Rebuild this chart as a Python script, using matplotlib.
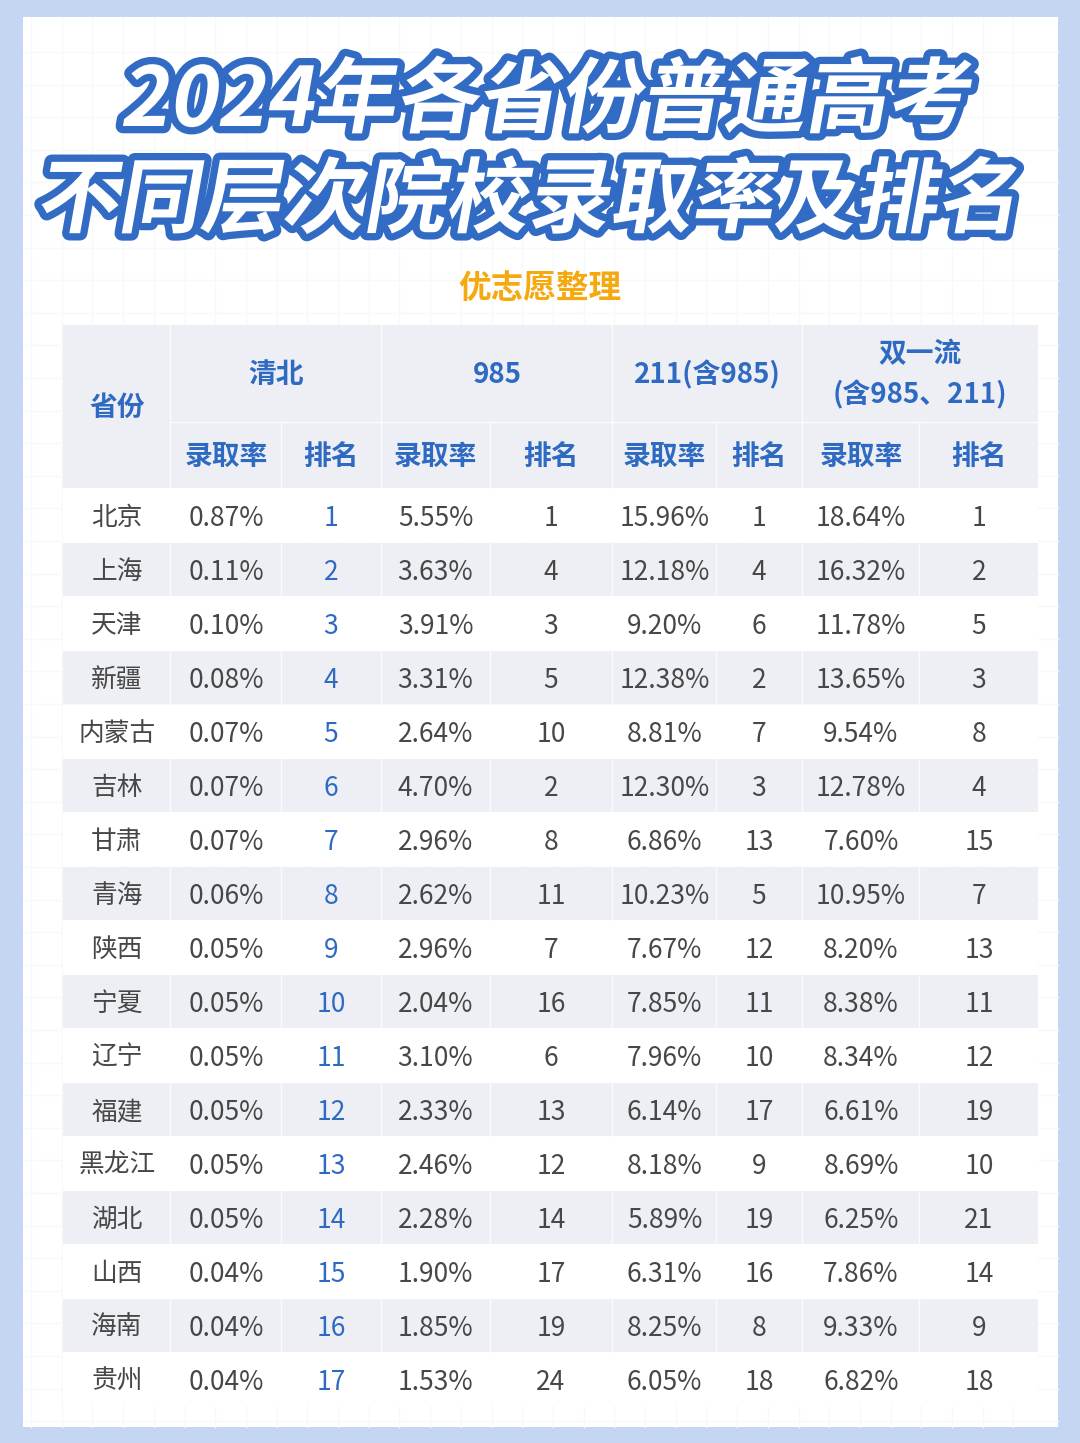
import matplotlib
matplotlib.use('Agg')
import matplotlib.pyplot as plt
import matplotlib.patheffects as pe
from matplotlib.colors import to_rgb
from matplotlib.patches import Rectangle
from matplotlib.transforms import Affine2D

plt.rcParams['font.family'] = ['Noto Sans CJK SC', 'DejaVu Sans']

provinces = ['北京', '上海', '天津', '新疆', '内蒙古', '吉林', '甘肃', '青海', '陕西', '宁夏',
             '辽宁', '福建', '黑龙江', '湖北', '山西', '海南', '贵州']
qb_rate = ['0.87%', '0.11%', '0.10%', '0.08%', '0.07%', '0.07%', '0.07%', '0.06%', '0.05%', '0.05%',
           '0.05%', '0.05%', '0.05%', '0.05%', '0.04%', '0.04%', '0.04%']
qb_rank = [1, 2, 3, 4, 5, 6, 7, 8, 9, 10, 11, 12, 13, 14, 15, 16, 17]
r985_rate = ['5.55%', '3.63%', '3.91%', '3.31%', '2.64%', '4.70%', '2.96%', '2.62%', '2.96%', '2.04%',
             '3.10%', '2.33%', '2.46%', '2.28%', '1.90%', '1.85%', '1.53%']
r985_rank = [1, 4, 3, 5, 10, 2, 8, 11, 7, 16, 6, 13, 12, 14, 17, 19, 24]
r211_rate = ['15.96%', '12.18%', '9.20%', '12.38%', '8.81%', '12.30%', '6.86%', '10.23%', '7.67%', '7.85%',
             '7.96%', '6.14%', '8.18%', '5.89%', '6.31%', '8.25%', '6.05%']
r211_rank = [1, 4, 6, 2, 7, 3, 13, 5, 12, 11, 10, 17, 9, 19, 16, 8, 18]
syl_rate = ['18.64%', '16.32%', '11.78%', '13.65%', '9.54%', '12.78%', '7.60%', '10.95%', '8.20%', '8.38%',
            '8.34%', '6.61%', '8.69%', '6.25%', '7.86%', '9.33%', '6.82%']
syl_rank = [1, 2, 5, 3, 8, 4, 15, 7, 13, 11, 12, 19, 10, 21, 14, 9, 18]

BLUE = '#2f6ac2'
GREY_ROW = '#edeff4'
LINE = '#fafbfd'
TEXT = '#474747'

# column edges in pixels
col_x = [63, 170, 281, 381, 490, 612, 716, 802, 919, 1038]
rate_x = [226, 435.5, 664.5, 861]
rank_x = [331, 551, 759, 979]
row_top = 489
row_h = 54


class SkewStroke(pe.AbstractPathEffect):
    # CJK fonts have no italic, so the slant is added when the text is drawn
    def __init__(self, deg, linewidth=0, color=None):
        super().__init__()
        self.deg = deg
        self.linewidth = linewidth
        self.color = color

    def draw_path(self, renderer, gc, tpath, affine, rgbFace=None):
        m = affine.get_matrix()
        x0, y0 = m[0, 2], m[1, 2]
        skew = Affine2D().translate(-x0, -y0).skew_deg(self.deg, 0).translate(x0, y0)
        gc0 = renderer.new_gc()
        gc0.copy_properties(gc)
        if self.linewidth:
            gc0.set_linewidth(self.linewidth)
            gc0.set_foreground(self.color)
            gc0.set_joinstyle('round')
            renderer.draw_path(gc0, tpath, affine + skew, to_rgb(self.color))
        else:
            gc0.set_linewidth(0)
            renderer.draw_path(gc0, tpath, affine + skew, rgbFace)
        gc0.restore()


fig = plt.figure(figsize=(10.8, 14.43), dpi=100, facecolor='#c5d6f2')
ax = fig.add_axes([0, 0, 1, 1])
ax.set_xlim(0, 1080)
ax.set_ylim(1443, 0)
ax.axis('off')

# white card with faint grid
ax.add_patch(Rectangle((23, 17), 1035, 1410, fc='white', ec='none', zorder=1))
for i in range(1, 34):
    ax.plot([31 + (i - 1) * 30.7] * 2, [17, 1427], color='#f7f8fa', lw=1, zorder=1.5)
for i in range(0, 43):
    ax.plot([23, 1058], [52 + i * 32.6] * 2, color='#f7f8fa', lw=1, zorder=1.5)

# title
title_fx = [SkewStroke(10, linewidth=10.5, color='#326bc4'), SkewStroke(10)]
ax.text(544, 126, '2024年各省份普通高考', fontsize=59, fontweight='bold', color='white',
        ha='center', va='baseline', path_effects=title_fx, zorder=5)
ax.text(527, 226, '不同层次院校录取率及排名', fontsize=59, fontweight='bold', color='white',
        ha='center', va='baseline', path_effects=title_fx, zorder=5)
ax.text(540, 288, '优志愿整理', fontsize=23.5, fontweight='bold', color='#f5a90f',
        ha='center', va='center', zorder=5)

# header background
ax.add_patch(Rectangle((col_x[0], 325), col_x[-1] - col_x[0], 163, fc=GREY_ROW, ec='none', zorder=2))
for x in [col_x[1], col_x[3], col_x[5], col_x[7]]:
    ax.plot([x, x], [325, 488], color=LINE, lw=1, zorder=3)
for x in [col_x[2], col_x[4], col_x[6], col_x[8]]:
    ax.plot([x, x], [422, 488], color=LINE, lw=1, zorder=3)
ax.plot([col_x[1], col_x[-1]], [422, 422], color=LINE, lw=1, zorder=3)

# rows
for i in range(len(provinces)):
    top = row_top + i * row_h
    fc = GREY_ROW if i % 2 else 'white'
    ax.add_patch(Rectangle((col_x[0], top), col_x[-1] - col_x[0], row_h - 1, fc=fc, ec='none', zorder=2))
    if i % 2:
        for x in col_x[1:-1]:
            ax.plot([x, x], [top, top + row_h - 1], color=LINE, lw=1, zorder=3)

def head(x, y, s, size=20):
    ax.text(x, y, s, fontsize=size, fontweight='bold', color=BLUE, ha='center', va='center', zorder=5)

head(117, 408, '省份')
head(276, 375, '清北')
head(497, 375, '985')
head(707, 375, '211(含985)')
head(920, 354, '双一流')
head(920, 395, '(含985、211)')
for x in rate_x:
    head(x, 457, '录取率')
for x in rank_x:
    head(x - 0.5, 457, '排名')

columns = [(rate_x[0], qb_rate), (rank_x[0], qb_rank), (rate_x[1], r985_rate), (rank_x[1], r985_rank),
           (rate_x[2], r211_rate), (rank_x[2], r211_rank), (rate_x[3], syl_rate), (rank_x[3], syl_rank)]

for i, name in enumerate(provinces):
    y = row_top + i * row_h + 29
    ax.text(117, y, name, fontsize=18.5, color=TEXT, ha='center', va='center', zorder=5)
    for x, vals in columns:
        if vals is qb_rank:
            ax.text(x, y, str(vals[i]), fontsize=19, fontweight='medium', color=BLUE,
                    ha='center', va='center', zorder=5)
        else:
            ax.text(x, y, str(vals[i]), fontsize=19, color=TEXT, ha='center', va='center', zorder=5)

fig.savefig('out.png', dpi=100, facecolor=fig.get_facecolor())
